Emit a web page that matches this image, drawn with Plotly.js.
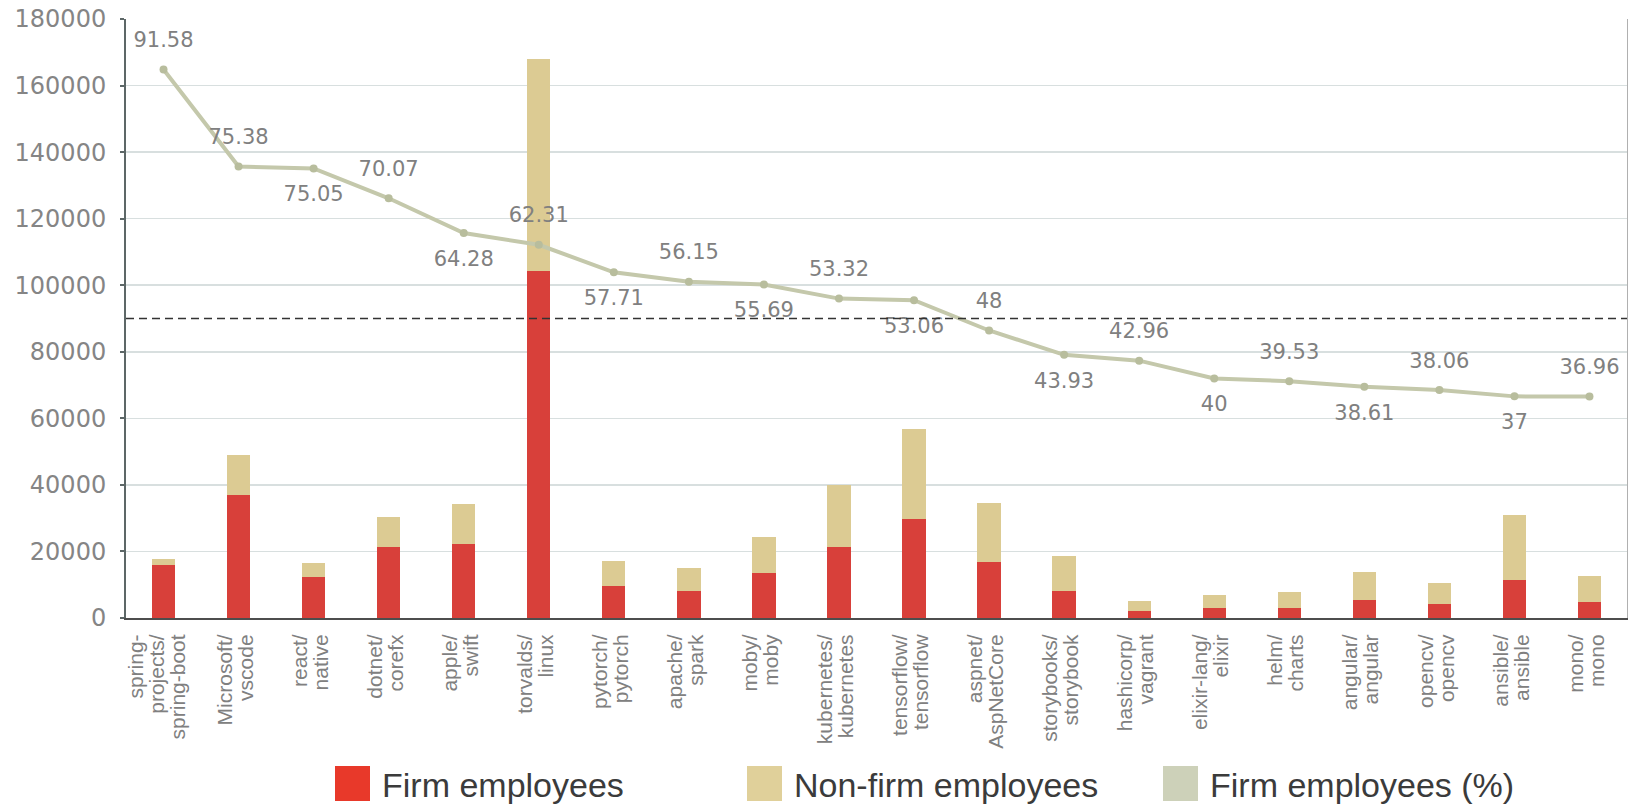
<!DOCTYPE html>
<html>
<head>
<meta charset="utf-8">
<script src="https://cdn.plot.ly/plotly-3.0.1.min.js"></script>
<style>
  html, body { margin: 0; padding: 0; background: #ffffff; }
  #chart { width: 1628px; height: 804px; }
</style>
</head>
<body>
<div id="chart"></div>
<script>
// ---------- data ----------
const categories = [
  "spring-projects/spring-boot", "Microsoft/vscode", "react/native", "dotnet/corefx",
  "apple/swift", "torvalds/linux", "pytorch/pytorch", "apache/spark", "moby/moby",
  "kubernetes/kubernetes", "tensorflow/tensorflow", "aspnet/AspNetCore",
  "storybooks/storybook", "hashicorp/vagrant", "elixir-lang/elixir", "helm/charts",
  "angular/angular", "opencv/opencv", "ansible/ansible", "mono/mono"
];
const tickLabels = [
  "spring-<br>projects/<br>spring-boot", "Microsoft/<br>vscode", "react/<br>native", "dotnet/<br>corefx",
  "apple/<br>swift", "torvalds/<br>linux", "pytorch/<br>pytorch", "apache/<br>spark", "moby/<br>moby",
  "kubernetes/<br>kubernetes", "tensorflow/<br>tensorflow", "aspnet/<br>AspNetCore",
  "storybooks/<br>storybook", "hashicorp/<br>vagrant", "elixir-lang/<br>elixir", "helm/<br>charts",
  "angular/<br>angular", "opencv/<br>opencv", "ansible/<br>ansible", "mono/<br>mono"
];
const firmEmployees = [16000, 37000, 12200, 21200, 22100, 104400, 9500, 8100, 13400, 21200,
                       29800, 16800, 8100, 2200, 3000, 3100, 5300, 4100, 11400, 4800];
const nonFirmEmployees = [1600, 12100, 4200, 9100, 12300, 63600, 7700, 6800, 11000, 18800,
                          26900, 17900, 10600, 2800, 3900, 4700, 8400, 6300, 19600, 7700];
const firmPercent = [91.58, 75.38, 75.05, 70.07, 64.28, 62.31, 57.71, 56.15, 55.69, 53.32,
                     53.06, 48, 43.93, 42.96, 40, 39.53, 38.61, 38.06, 37, 36.96];
const labelSide = ["top", "top", "bottom", "top", "bottom", "top", "bottom", "top", "bottom", "top",
                   "bottom", "top", "bottom", "top", "bottom", "top", "bottom", "top", "bottom", "top"];
const referencePercent = 50;
const yTickValues = [0, 20000, 40000, 60000, 80000, 100000, 120000, 140000, 160000, 180000];
const legendItems = [
  { label: "Firm employees", color: "#e8392a" },
  { label: "Non-firm employees", color: "#e0d09a" },
  { label: "Firm employees (%)", color: "#cdd1b9" }
];

// ---------- styles ----------
const RED = "#d8403a", TAN = "#dccb93", LINE = "#c4c8ab", MARK = "#b8bd9d";
const W = 1628, H = 804;
const ML = 126, MR = 1, MT = 19, MB = 186;
const PW = W - ML - MR, PH = H - MT - MB, PB = H - MB;
const toPX = x => (x - ML) / PW;
const toPY = y => (PB - y) / PH;

const traces = [
  {
    type: "bar", x: categories, y: firmEmployees, name: "Firm employees",
    marker: { color: RED }, hoverinfo: "x+y", showlegend: false
  },
  {
    type: "bar", x: categories, y: nonFirmEmployees, name: "Non-firm employees",
    marker: { color: TAN }, hoverinfo: "x+y", showlegend: false
  },
  {
    type: "scatter", mode: "lines+markers", x: categories, y: firmPercent, yaxis: "y2",
    name: "Firm employees (%)", line: { color: LINE, width: 4 },
    marker: { color: MARK, size: 8 }, showlegend: false
  },
  {
    type: "scatter", mode: "markers+text", x: categories, y: firmPercent, yaxis: "y2",
    text: firmPercent.map(String), textposition: labelSide.map(s => s + " center"),
    textfont: { family: "DejaVu Sans", size: 21, color: "#808080" },
    marker: { size: 26, opacity: 0 }, hoverinfo: "skip", showlegend: false
  }
];

const shapes = [
  {
    type: "line", xref: "paper", x0: 0, x1: 1, yref: "y2", y0: referencePercent, y1: referencePercent,
    line: { color: "#333333", width: 1.5, dash: "8px,5px" }
  }
];
const annotations = [];
const legendX = [335, 747, 1163];
legendItems.forEach((it, i) => {
  shapes.push({
    type: "rect", xref: "paper", yref: "paper",
    x0: toPX(legendX[i]), x1: toPX(legendX[i] + 35), y0: toPY(801), y1: toPY(766),
    fillcolor: it.color, line: { width: 0 }
  });
  annotations.push({
    xref: "paper", yref: "paper", x: toPX(legendX[i] + 45), y: toPY(785),
    xanchor: "left", yanchor: "middle", showarrow: false, text: it.label,
    font: { family: "Liberation Sans", size: 34, color: "#3b3b3b" }
  });
});

const layout = {
  width: W, height: H,
  margin: { l: ML, r: MR, t: MT, b: MB, pad: 0 },
  paper_bgcolor: "#ffffff", plot_bgcolor: "#ffffff",
  barmode: "stack", bargap: 0.69,
  showlegend: false,
  xaxis: {
    type: "category", range: [-0.5, categories.length - 0.5],
    tickmode: "array", tickvals: categories, ticktext: tickLabels,
    tickangle: -90, ticks: "", showgrid: false, showline: true, linecolor: "#4d4d4d", linewidth: 2,
    tickfont: { family: "Liberation Sans", size: 21, color: "#808080" },
    ticklabelstandoff: 6, automargin: false
  },
  yaxis: {
    range: [0, 180000], tickmode: "array", tickvals: yTickValues, tickformat: "d",
    showline: true, linecolor: "#5d6767", linewidth: 2, ticks: "outside", ticklen: 4,
    tickcolor: "#5d6767", tickwidth: 2,
    showgrid: true, gridcolor: "#d8dfdf", gridwidth: 1.5, zeroline: false,
    tickfont: { family: "DejaVu Sans", size: 24, color: "#858585" },
    ticklabelstandoff: 9, automargin: false
  },
  yaxis2: {
    overlaying: "y", side: "right", range: [0, 100], showgrid: false, zeroline: false,
    showticklabels: false, ticks: "", showline: true, linecolor: "#b0b0b0", linewidth: 1
  },
  shapes: shapes,
  annotations: annotations
};

Plotly.newPlot("chart", traces, layout, { displayModeBar: false, staticPlot: true }).then(gd => {
  // tighten multi-line tick label spacing to match the reference
  gd.querySelectorAll(".xtick text tspan.line").forEach(ts => {
    const dy = ts.getAttribute("dy");
    if (dy && dy.endsWith("em")) ts.setAttribute("dy", (parseFloat(dy) * 1.0 / 1.3) + "em");
  });
});
</script>
</body>
</html>
